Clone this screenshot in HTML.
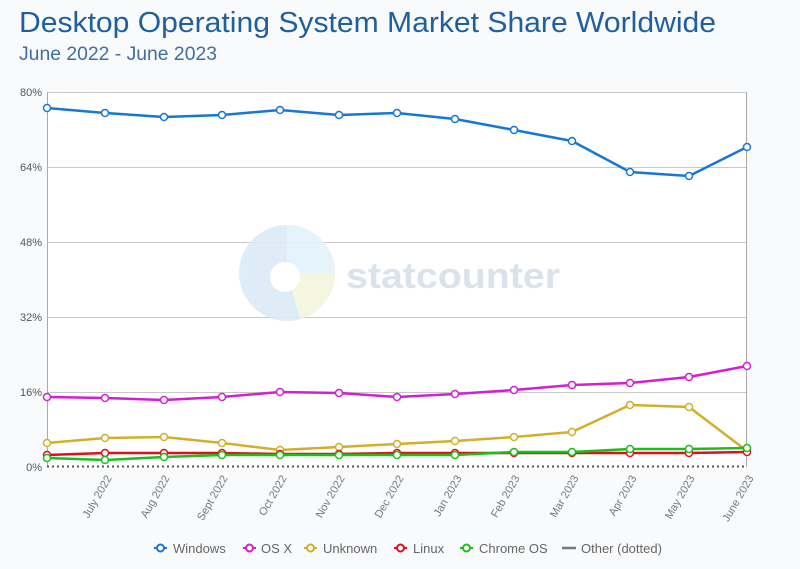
<!DOCTYPE html>
<html><head><meta charset="utf-8"><style>
html,body{margin:0;padding:0;background:#f9fafc;}
svg{display:block;font-family:"Liberation Sans",sans-serif;}
</style></head><body>
<svg width="800" height="569" viewBox="0 0 800 569" xmlns="http://www.w3.org/2000/svg">
<rect width="800" height="569" fill="#f9fafc"/>
<text x="19" y="32" font-size="29" fill="#1f5f9f" textLength="697" lengthAdjust="spacingAndGlyphs">Desktop Operating System Market Share Worldwide</text>
<text x="19" y="60" font-size="19" fill="#3f6f9f" textLength="198" lengthAdjust="spacingAndGlyphs">June 2022 - June 2023</text>
<rect x="47" y="92" width="700" height="375" fill="#fff"/>
<g stroke="#c8c8c8" stroke-width="1">
<line x1="47" y1="92.5" x2="747" y2="92.5"/>
<line x1="47" y1="167.5" x2="747" y2="167.5"/>
<line x1="47" y1="242.5" x2="747" y2="242.5"/>
<line x1="47" y1="317.5" x2="747" y2="317.5"/>
<line x1="47" y1="392.5" x2="747" y2="392.5"/>
</g>
<line x1="47.5" y1="92" x2="47.5" y2="467" stroke="#aaa"/>
<line x1="746.5" y1="92" x2="746.5" y2="467" stroke="#aaa"/>
<line x1="47" y1="466.5" x2="747" y2="466.5" stroke="#555" stroke-width="2" stroke-dasharray="2,3"/>
<g font-size="11" fill="#555" text-anchor="end">
<text x="42" y="96">80%</text><text x="42" y="171">64%</text><text x="42" y="246">48%</text>
<text x="42" y="321">32%</text><text x="42" y="396">16%</text><text x="42" y="471">0%</text>
</g>
<g opacity="0.9">
<circle cx="287" cy="273" r="48" fill="#dcebf7"/>
<path d="M287 225 A48 48 0 0 1 335 273 L287 273Z" fill="#e3f3fb"/>
<path d="M335 273 A48 48 0 0 1 300 319 L287 273Z" fill="#f3f6dc"/>
<circle cx="285" cy="277" r="15" fill="#fff"/>
<text x="346" y="288" font-size="36" font-weight="bold" fill="#d6dfeb" textLength="214" lengthAdjust="spacingAndGlyphs">statcounter</text>
</g>
<g font-size="11" fill="#777">
<text transform="translate(112,478) rotate(-60)" text-anchor="end">July 2022</text>
<text transform="translate(170,478) rotate(-60)" text-anchor="end">Aug 2022</text>
<text transform="translate(228,478) rotate(-60)" text-anchor="end">Sept 2022</text>
<text transform="translate(287,478) rotate(-60)" text-anchor="end">Oct 2022</text>
<text transform="translate(345,478) rotate(-60)" text-anchor="end">Nov 2022</text>
<text transform="translate(404,478) rotate(-60)" text-anchor="end">Dec 2022</text>
<text transform="translate(462,478) rotate(-60)" text-anchor="end">Jan 2023</text>
<text transform="translate(520,478) rotate(-60)" text-anchor="end">Feb 2023</text>
<text transform="translate(579,478) rotate(-60)" text-anchor="end">Mar 2023</text>
<text transform="translate(637,478) rotate(-60)" text-anchor="end">Apr 2023</text>
<text transform="translate(695,478) rotate(-60)" text-anchor="end">May 2023</text>
<text transform="translate(754,478) rotate(-60)" text-anchor="end">June 2023</text>
</g>
<g fill="none" stroke-width="2.5" stroke-linejoin="round">
<polyline stroke="#d4ae2a" points="47,443 105,438 164,437 222,443 280,450 339,447 397,444 455,441 514,437 572,432 630,405 689,407 747,451"/>
<polyline stroke="#e0101a" points="47,455 105,453 164,453 222,453 280,454 339,454 397,453 455,453 514,453 572,453 630,453 689,453 747,452"/>
<polyline stroke="#1bbf1b" points="47,458 105,460 164,457 222,455 280,455 339,455 397,455 455,455 514,452 572,452 630,449 689,449 747,448"/>
<polyline stroke="#d21fd0" points="47,397 105,398 164,400 222,397 280,392 339,393 397,397 455,394 514,390 572,385 630,383 689,377 747,366"/>
<polyline stroke="#1577d6" points="47,108 105,113 164,117 222,115 280,110 339,115 397,113 455,119 514,130 572,141 630,172 689,176 747,147"/>
</g>
<g fill="#fff" stroke-width="1.5">
<g stroke="#d4ae2a"><circle cx="47" cy="443" r="3.5"/><circle cx="105" cy="438" r="3.5"/><circle cx="164" cy="437" r="3.5"/><circle cx="222" cy="443" r="3.5"/><circle cx="280" cy="450" r="3.5"/><circle cx="339" cy="447" r="3.5"/><circle cx="397" cy="444" r="3.5"/><circle cx="455" cy="441" r="3.5"/><circle cx="514" cy="437" r="3.5"/><circle cx="572" cy="432" r="3.5"/><circle cx="630" cy="405" r="3.5"/><circle cx="689" cy="407" r="3.5"/><circle cx="747" cy="451" r="3.5"/></g>
<g stroke="#e0101a"><circle cx="47" cy="455" r="3.5"/><circle cx="105" cy="453" r="3.5"/><circle cx="164" cy="453" r="3.5"/><circle cx="222" cy="453" r="3.5"/><circle cx="280" cy="454" r="3.5"/><circle cx="339" cy="454" r="3.5"/><circle cx="397" cy="453" r="3.5"/><circle cx="455" cy="453" r="3.5"/><circle cx="514" cy="453" r="3.5"/><circle cx="572" cy="453" r="3.5"/><circle cx="630" cy="453" r="3.5"/><circle cx="689" cy="453" r="3.5"/><circle cx="747" cy="452" r="3.5"/></g>
<g stroke="#1bbf1b"><circle cx="47" cy="458" r="3.5"/><circle cx="105" cy="460" r="3.5"/><circle cx="164" cy="457" r="3.5"/><circle cx="222" cy="455" r="3.5"/><circle cx="280" cy="455" r="3.5"/><circle cx="339" cy="455" r="3.5"/><circle cx="397" cy="455" r="3.5"/><circle cx="455" cy="455" r="3.5"/><circle cx="514" cy="452" r="3.5"/><circle cx="572" cy="452" r="3.5"/><circle cx="630" cy="449" r="3.5"/><circle cx="689" cy="449" r="3.5"/><circle cx="747" cy="448" r="3.5"/></g>
<g stroke="#d21fd0"><circle cx="47" cy="397" r="3.5"/><circle cx="105" cy="398" r="3.5"/><circle cx="164" cy="400" r="3.5"/><circle cx="222" cy="397" r="3.5"/><circle cx="280" cy="392" r="3.5"/><circle cx="339" cy="393" r="3.5"/><circle cx="397" cy="397" r="3.5"/><circle cx="455" cy="394" r="3.5"/><circle cx="514" cy="390" r="3.5"/><circle cx="572" cy="385" r="3.5"/><circle cx="630" cy="383" r="3.5"/><circle cx="689" cy="377" r="3.5"/><circle cx="747" cy="366" r="3.5"/></g>
<g stroke="#1577d6"><circle cx="47" cy="108" r="3.5"/><circle cx="105" cy="113" r="3.5"/><circle cx="164" cy="117" r="3.5"/><circle cx="222" cy="115" r="3.5"/><circle cx="280" cy="110" r="3.5"/><circle cx="339" cy="115" r="3.5"/><circle cx="397" cy="113" r="3.5"/><circle cx="455" cy="119" r="3.5"/><circle cx="514" cy="130" r="3.5"/><circle cx="572" cy="141" r="3.5"/><circle cx="630" cy="172" r="3.5"/><circle cx="689" cy="176" r="3.5"/><circle cx="747" cy="147" r="3.5"/></g>
</g>
<g font-size="13" fill="#666">
<g stroke-width="2"><line x1="154" y1="548" x2="167" y2="548" stroke="#1577d6"/><circle cx="160.5" cy="548" r="3.5" fill="#fff" stroke="#1577d6"/></g>
<text x="173" y="553">Windows</text>
<g stroke-width="2"><line x1="243" y1="548" x2="256" y2="548" stroke="#d21fd0"/><circle cx="249.5" cy="548" r="3.5" fill="#fff" stroke="#d21fd0"/></g>
<text x="261" y="553">OS X</text>
<g stroke-width="2"><line x1="304" y1="548" x2="317" y2="548" stroke="#d4ae2a"/><circle cx="310.5" cy="548" r="3.5" fill="#fff" stroke="#d4ae2a"/></g>
<text x="323" y="553">Unknown</text>
<g stroke-width="2"><line x1="394" y1="548" x2="407" y2="548" stroke="#e0101a"/><circle cx="400.5" cy="548" r="3.5" fill="#fff" stroke="#e0101a"/></g>
<text x="413" y="553">Linux</text>
<g stroke-width="2"><line x1="460" y1="548" x2="473" y2="548" stroke="#1bbf1b"/><circle cx="466.5" cy="548" r="3.5" fill="#fff" stroke="#1bbf1b"/></g>
<text x="479" y="553">Chrome OS</text>
<line x1="562" y1="548" x2="576" y2="548" stroke="#777" stroke-width="2.5"/>
<text x="581" y="553">Other (dotted)</text>
</g>
</svg>
</body></html>
